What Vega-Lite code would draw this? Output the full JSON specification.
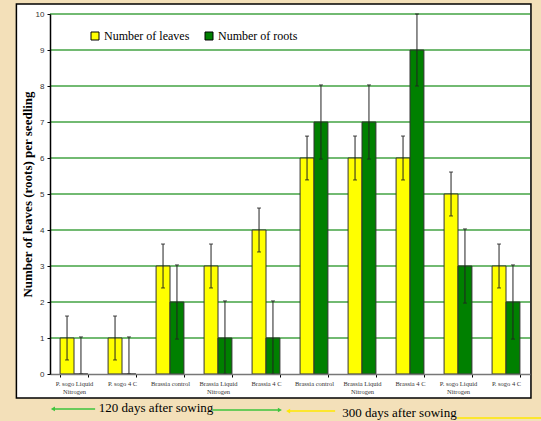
{
  "$schema": "https://vega.github.io/schema/vega-lite/v6.json",
  "width": 480,
  "height": 360,
  "autosize": "none",
  "padding": {"left": 50, "top": 14, "right": 11, "bottom": 47},
  "background": "#f3e0b9",
  "config": {
    "view": {"stroke": null},
    "axis": {"grid": false, "labelOverlap": false}
  },
  "datasets": {
    "bars": [
      {"i": 1, "series": "Number of leaves", "value": 1, "lo": 0.39, "hi": 1.61},
      {"i": 1, "series": "Number of roots", "value": 0, "lo": 0, "hi": 1.03},
      {"i": 2, "series": "Number of leaves", "value": 1, "lo": 0.39, "hi": 1.61},
      {"i": 2, "series": "Number of roots", "value": 0, "lo": 0, "hi": 1.03},
      {"i": 3, "series": "Number of leaves", "value": 3, "lo": 2.39, "hi": 3.61},
      {"i": 3, "series": "Number of roots", "value": 2, "lo": 0.97, "hi": 3.03},
      {"i": 4, "series": "Number of leaves", "value": 3, "lo": 2.39, "hi": 3.61},
      {"i": 4, "series": "Number of roots", "value": 1, "lo": 0, "hi": 2.03},
      {"i": 5, "series": "Number of leaves", "value": 4, "lo": 3.39, "hi": 4.61},
      {"i": 5, "series": "Number of roots", "value": 1, "lo": 0, "hi": 2.03},
      {"i": 6, "series": "Number of leaves", "value": 6, "lo": 5.39, "hi": 6.61},
      {"i": 6, "series": "Number of roots", "value": 7, "lo": 5.97, "hi": 8.03},
      {"i": 7, "series": "Number of leaves", "value": 6, "lo": 5.39, "hi": 6.61},
      {"i": 7, "series": "Number of roots", "value": 7, "lo": 5.97, "hi": 8.03},
      {"i": 8, "series": "Number of leaves", "value": 6, "lo": 5.39, "hi": 6.61},
      {"i": 8, "series": "Number of roots", "value": 9, "lo": 8.0, "hi": 10.0},
      {"i": 9, "series": "Number of leaves", "value": 5, "lo": 4.39, "hi": 5.61},
      {"i": 9, "series": "Number of roots", "value": 3, "lo": 1.97, "hi": 4.03},
      {"i": 10, "series": "Number of leaves", "value": 3, "lo": 2.39, "hi": 3.61},
      {"i": 10, "series": "Number of roots", "value": 2, "lo": 0.97, "hi": 3.03}
    ],
    "grid": [
      {"g": 1}, {"g": 2}, {"g": 3}, {"g": 4}, {"g": 5},
      {"g": 6}, {"g": 7}, {"g": 8}, {"g": 9}, {"g": 10}
    ],
    "frame": [{"x0": -0.7, "x1": 10.02, "y0": -0.667, "y1": 10.28}],
    "segments": [
      {"period": "120 days", "x": 0.06, "x2": 0.94, "y": -0.97},
      {"period": "120 days", "x": 3.38, "x2": 4.79, "y": -1.0},
      {"period": "300 days", "x": 4.96, "x2": 5.94, "y": -1.03},
      {"period": "300 days", "x": 8.48, "x2": 10.4, "y": -1.22}
    ],
    "heads": [
      {"period": "120 days", "x": 0.06, "y": -0.97, "dir": "left"},
      {"period": "120 days", "x": 4.79, "y": -1.0, "dir": "right"},
      {"period": "300 days", "x": 4.96, "y": -1.03, "dir": "left"}
    ],
    "notes": [
      {"x": 2.21, "y": -0.94, "text": "120 days after sowing"},
      {"x": 7.28, "y": -1.08, "text": "300 days after sowing"}
    ]
  },
  "resolve": {"scale": {"x": "independent", "color": "independent"}, "axis": {"y": "independent"}},
  "layer": [
    {
      "data": {"name": "frame"},
      "mark": {"type": "rect", "fill": "white", "stroke": "black", "strokeWidth": 1.5},
      "encoding": {
        "x": {"field": "x0", "type": "quantitative", "scale": {"domain": [0, 10], "nice": false, "zero": false}, "axis": null},
        "x2": {"field": "x1"},
        "y": {"field": "y0", "type": "quantitative", "scale": {"domain": [0, 10]}, "axis": null},
        "y2": {"field": "y1"}
      }
    },
    {
      "data": {"name": "grid"},
      "mark": {"type": "rule", "color": "#229222", "strokeWidth": 1.5, "opacity": 0.85},
      "encoding": {
        "y": {
          "field": "g",
          "type": "quantitative",
          "scale": {"domain": [0, 10]},
          "axis": {
            "orient": "left",
            "zindex": 1,
            "values": [0, 1, 2, 3, 4, 5, 6, 7, 8, 9, 10],
            "labelOverlap": false,
            "title": "Number of leaves (roots) per seedling",
            "titleFont": "Liberation Serif",
            "titleFontSize": 13,
            "titleFontWeight": "bold",
            "titleColor": "#000",
            "titlePadding": 1,
            "labelFont": "Liberation Sans",
            "labelFontSize": 8,
            "labelColor": "#333",
            "labelPadding": 3,
            "tickSize": 3,
            "tickColor": "#000",
            "domainColor": "#000",
            "domainWidth": 1.5
          }
        }
      }
    },
    {
      "data": {"name": "bars"},
      "encoding": {
        "x": {
          "field": "i",
          "type": "ordinal",
          "scale": {"paddingInner": 0.42, "paddingOuter": 0.21},
          "axis": {
            "zindex": 1,
            "title": null,
            "labelAngle": 0,
            "labelExpr": "isValid(datum.value) ? split(['P. sogo Liquid|Nitrogen','P. sogo  4 C','Brassia control','Brassia  Liquid|Nitrogen','Brassia  4 C','Brassia control','Brassia Liquid|Nitrogen','Brassia 4 C','P. sogo Liquid|Nitrogen','P. sogo  4 C'][datum.value - 1], '|') : ''",
            "labelFont": "Liberation Serif",
            "labelFontSize": 6.5,
            "labelColor": "#333",
            "labelLineHeight": 8,
            "labelPadding": 3,
            "labelBaseline": "top",
            "labelOverlap": false,
            "tickBand": "extent",
            "tickSize": 3,
            "tickColor": "#000",
            "domainColor": "#777",
            "domainWidth": 1.5
          }
        },
        "xOffset": {"field": "series", "type": "nominal", "scale": {"domain": ["Number of leaves", "Number of roots"]}}
      },
      "layer": [
        {
          "mark": {"type": "bar", "stroke": "#333", "strokeWidth": 1},
          "encoding": {
            "y": {"field": "value", "type": "quantitative", "scale": {"domain": [0, 10]}, "axis": null},
            "color": {
              "field": "series",
              "type": "nominal",
              "scale": {"domain": ["Number of leaves", "Number of roots"], "range": ["#ffff00", "#008000"]},
              "legend": {
                "title": null,
                "orient": "none",
                "direction": "horizontal",
                "legendX": 39,
                "legendY": 16,
                "padding": 0,
                "symbolType": "square",
                "symbolSize": 64,
                "symbolStrokeColor": "#000",
                "symbolStrokeWidth": 1,
                "symbolOpacity": 1,
                "labelFont": "Liberation Serif",
                "labelFontSize": 12,
                "labelColor": "#000",
                "labelOffset": 3,
                "columnPadding": 13
              }
            }
          }
        },
        {
          "mark": {"type": "rule", "color": "#222", "strokeWidth": 1},
          "encoding": {
            "y": {"field": "lo", "type": "quantitative", "scale": {"domain": [0, 10]}, "axis": null},
            "y2": {"field": "hi"}
          }
        },
        {
          "mark": {"type": "tick", "color": "#222", "size": 4, "thickness": 1.2},
          "encoding": {
            "y": {"field": "hi", "type": "quantitative", "scale": {"domain": [0, 10]}, "axis": null}
          }
        },
        {
          "mark": {"type": "tick", "color": "#222", "size": 4, "thickness": 1.2},
          "encoding": {
            "y": {"field": "lo", "type": "quantitative", "scale": {"domain": [0, 10]}, "axis": null}
          }
        }
      ]
    },
    {
      "layer": [
        {
          "data": {"name": "segments"},
          "mark": {"type": "rule", "strokeWidth": 1.5},
          "encoding": {
            "x": {"field": "x", "type": "quantitative", "scale": {"domain": [0, 10], "nice": false, "zero": false}, "axis": null},
            "x2": {"field": "x2"},
            "y": {"field": "y", "type": "quantitative", "scale": {"domain": [0, 10]}, "axis": null},
            "color": {"field": "period", "type": "nominal", "scale": {"domain": ["120 days", "300 days"], "range": ["#3cc43c", "#ffe800"]}, "legend": null}
          }
        },
        {
          "data": {"name": "heads"},
          "mark": {"type": "point", "filled": true, "size": 22, "opacity": 1},
          "encoding": {
            "x": {"field": "x", "type": "quantitative", "axis": null},
            "y": {"field": "y", "type": "quantitative", "scale": {"domain": [0, 10]}, "axis": null},
            "color": {"field": "period", "type": "nominal", "legend": null},
            "shape": {"field": "dir", "type": "nominal", "scale": {"domain": ["left", "right"], "range": ["triangle-left", "triangle-right"]}, "legend": null}
          }
        },
        {
          "data": {"name": "notes"},
          "mark": {"type": "text", "font": "Liberation Serif", "fontSize": 13, "color": "#000"},
          "encoding": {
            "x": {"field": "x", "type": "quantitative", "axis": null},
            "y": {"field": "y", "type": "quantitative", "scale": {"domain": [0, 10]}, "axis": null},
            "text": {"field": "text"}
          }
        }
      ]
    }
  ]
}
